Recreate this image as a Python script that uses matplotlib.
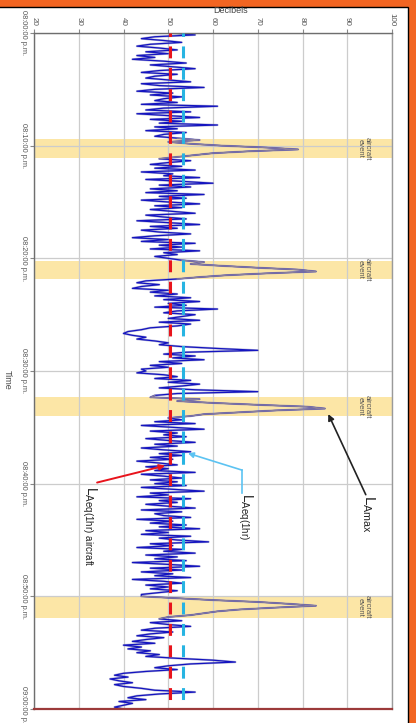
import numpy as np
import matplotlib
matplotlib.use("Agg")
import matplotlib.pyplot as plt
from matplotlib.patches import Rectangle
from matplotlib.lines import Line2D

plt.rcParams['font.family'] = ['Liberation Sans', 'DejaVu Sans']
plt.rcParams['mathtext.fontset'] = 'custom'
plt.rcParams['mathtext.rm'] = 'Liberation Sans'

# ---------------- data ----------------
# sound level (dB) sampled every 10 s from 08:00:00 to 09:00:00 p.m.
sample_step_min = 10 / 60
level_db = [
    51, 56, 47, 44, 49, 53, 46, 43, 48, 52, 45, 50,   # 00-02
    43, 47, 42, 49, 54, 46, 51, 56, 48, 44, 52, 47,   # 02-04
    45, 50, 55, 44, 48, 58, 47, 43, 51, 46, 53, 49,   # 04-06
    47, 52, 44, 61, 49, 45, 55, 43, 50, 57, 46, 53,   # 06-08
    48, 61, 47, 52, 45, 54, 49, 47, 52, 57, 50, 55,   # 08-10
    62, 72, 79, 68, 60, 56, 52, 48, 55, 50, 46, 53,   # 10-12
    47, 56, 44, 51, 49, 57, 45, 53, 60, 48, 55, 46,   # 12-14
    52, 45, 58, 48, 54, 44, 50, 57, 47, 53, 46, 51,   # 14-16
    56, 45, 49, 54, 43, 50, 57, 46, 52, 44, 48, 55,   # 16-18
    47, 42, 50, 44, 56, 48, 53, 46, 57, 49, 52, 47,   # 18-20
    50, 53, 58, 55, 62, 70, 79, 83, 72, 63, 57, 52,   # 20-22
    45, 43, 48, 44, 42, 50, 46, 52, 47, 55, 49, 57,   # 22-24
    50, 54, 47, 61, 52, 49, 56, 53, 50, 57, 48, 55,   # 24-26
    52, 46, 44, 41, 40, 42, 45, 43, 47, 50, 48, 53,   # 26-28
    61, 70, 54, 49, 56, 51, 58, 48, 53, 46, 50, 44,   # 28-30
    45, 43, 49, 52, 47, 55, 50, 57, 53, 48, 56, 70,   # 30-32
    52, 47, 46, 57, 52, 60, 70, 81, 85, 74, 66, 58,   # 32-34
    55, 50, 53, 47, 56, 44, 51, 58, 46, 52, 49, 54,   # 34-36
    45, 50, 56, 47, 52, 44, 49, 55, 48, 53, 46, 51,   # 36-38
    43, 48, 52, 45, 50, 47, 56, 44, 49, 53, 46, 52,   # 38-40
    47, 54, 44, 51, 58, 46, 50, 43, 55, 48, 52, 45,   # 40-42
    50, 56, 44, 53, 47, 49, 55, 43, 51, 46, 54, 48,   # 42-44
    57, 45, 50, 44, 55, 48, 52, 59, 46, 51, 43, 53,   # 44-46
    49, 56, 45, 52, 47, 54, 42, 50, 57, 46, 53, 44,   # 46-48
    51, 47, 55, 42, 49, 53, 45, 50, 46, 52, 48, 44,   # 48-50
    44, 52, 60, 70, 77, 83, 74, 66, 61, 58, 55, 50,   # 50-52
    48, 53, 46, 50, 55, 47, 44, 51, 46, 43, 49, 45,   # 52-54
    42, 47, 40, 44, 41, 46, 43, 48, 45, 52, 60, 65,   # 54-56
    55, 50, 47, 52, 45, 40, 38, 41, 37, 39, 42, 38,   # 56-58
    40, 44, 47, 56, 48, 43, 41, 45, 39, 42, 40, 38,   # 58-60
    40,
]
laeq_1hr_aircraft = 50.5
laeq_1hr = 53.3
event_start_min = [9.4, 20.2, 32.3, 50.0]
event_end_min = [11.1, 21.8, 34.0, 51.9]
db_ticks = [20, 30, 40, 50, 60, 70, 80, 90, 100]
time_ticks_min = [0, 10, 20, 30, 40, 50, 60]
time_tick_labels = ['08:00:00 p.m.', '08:10:00 p.m.', '08:20:00 p.m.', '08:30:00 p.m.',
                    '08:40:00 p.m.', '08:50:00 p.m.', '09:00:00 p.m.']

# ---------------- figure ----------------
W, H = 416, 723
fig = plt.figure(figsize=(W / 100, H / 100), dpi=100, facecolor='#f26522')
fig.patches.append(Rectangle((-0.01, -0.01), 408 / W + 0.01, 716 / H + 0.01,
                             transform=fig.transFigure, facecolor='white',
                             edgecolor='black', lw=1.0, zorder=-5))

ax = fig.add_axes([34 / W, 1 - 709 / H, (392 - 34) / W, (709 - 33) / H], zorder=2)
ax.set_facecolor('white')
ax.set_xlim(20, 100)
ax.set_ylim(60, 0)

t = np.arange(len(level_db)) * sample_step_min
lv = np.array(level_db, dtype=float)

# event bands
for s, e in zip(event_start_min, event_end_min):
    ax.axhspan(s, e, color='#fce6a6', zorder=0.5, lw=0)
    ax.text(93.7, (s + e) / 2, 'aircraft\nevent', rotation=270, ha='center', va='center',
            fontsize=5.5, color='#555555', linespacing=1.0, zorder=3)

# grid
ax.set_xticks(db_ticks)
ax.set_yticks(time_ticks_min)
ax.grid(True, color='#cccccc', lw=0.9, zorder=1)

# trace
ax.plot(lv, t, color='#6b6bb0', lw=1.6, zorder=2, alpha=0.5)
ax.plot(lv, t, color='#1414c0', lw=0.9, zorder=2.05)
for s, e in zip(event_start_min, event_end_min):
    m = (t >= s - sample_step_min) & (t <= e + sample_step_min)
    ax.plot(lv[m], t[m], color='#8a7f9c', lw=0.9, zorder=2.1)

# reference lines
dash = (3.9, (3.9, 3.1))
ax.axvline(laeq_1hr_aircraft, color='#e8141c', lw=2.2, linestyle=dash, zorder=4)
ax.axvline(laeq_1hr, color='#27b4e2', lw=2.2, linestyle=dash, zorder=4)

# ticks
ax.xaxis.tick_top()
ax.set_xticklabels([str(v) for v in db_ticks], rotation=270, fontsize=5.8, color='#555555')
ax.set_yticklabels(time_tick_labels, rotation=270, fontsize=5.3, color='#555555', va='center')
ax.tick_params(axis='x', length=3, color='#888888', pad=2)
ax.tick_params(axis='y', length=3, color='#888888', pad=2)

for side in ['left', 'top']:
    ax.spines[side].set_color('#6e6e6e')
    ax.spines[side].set_linewidth(1.0)
ax.spines['right'].set_color('#9a9a9a')
ax.spines['right'].set_linewidth(1.0)
ax.spines['bottom'].set_color('#9c3a3a')
ax.spines['bottom'].set_linewidth(1.6)

fig.text(231 / W, 1 - 10.5 / H, 'Decibels', ha='center', va='center', fontsize=6.5,
         color='#444444')
fig.text(7 / W, 1 - 380 / H, 'Time', ha='center', va='center', rotation=270, fontsize=6.5,
         color='#444444')

# annotations
ax.text(94.6, 41.0, r'$\mathregular{L_{Amax}}$', rotation=270, ha='center', va='top',
        fontsize=11, color='#222222', zorder=5)
ax.annotate('', xy=(85.5, 33.6), xytext=(94.4, 41.2),
            arrowprops=dict(arrowstyle='-|>', color='#222222', lw=1.2, mutation_scale=9),
            zorder=5)

ax.text(67.2, 40.8, r'$\mathregular{L_{Aeq(1hr)}}$', rotation=270, ha='center', va='top',
        fontsize=10, color='#222222', zorder=5)
ax.add_line(Line2D([66.5, 66.5], [40.8, 38.8], color='#5cc3f2', lw=1.2, zorder=5))
ax.annotate('', xy=(54.4, 37.3), xytext=(66.5, 38.8),
            arrowprops=dict(arrowstyle='-|>', color='#5cc3f2', lw=1.2, mutation_scale=8,
                            shrinkA=0, shrinkB=0), zorder=5)

ax.text(32.3, 40.2, r'$\mathregular{L_{Aeq(1hr)\ aircraft}}$', rotation=270, ha='center',
        va='top', fontsize=10, color='#222222', zorder=5)
ax.annotate('', xy=(49.3, 38.4), xytext=(34.1, 39.9),
            arrowprops=dict(arrowstyle='-|>', color='#e8141c', lw=1.4, mutation_scale=8,
                            shrinkA=0, shrinkB=0), zorder=5)

fig.savefig('out.png', dpi=100, facecolor=fig.get_facecolor())
